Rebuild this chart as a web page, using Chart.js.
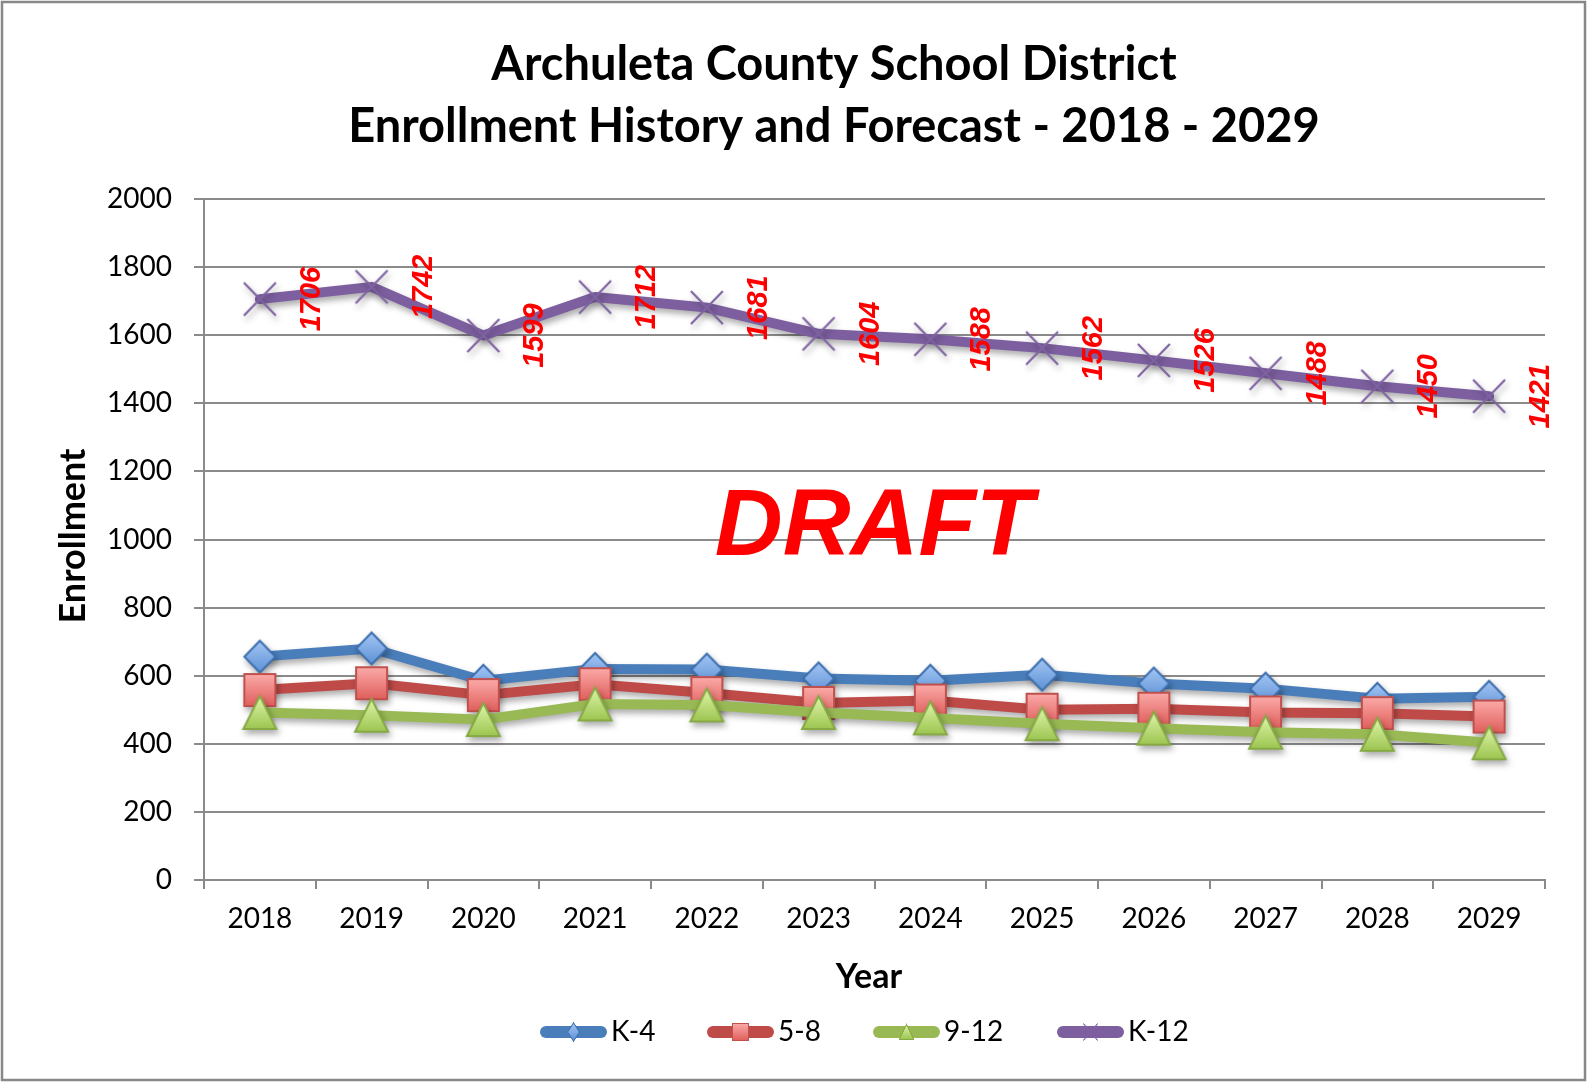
<!DOCTYPE html>
<html><head><meta charset="utf-8">
<script src="https://cdn.jsdelivr.net/npm/chart.js@4"></script>
<style>html,body{margin:0;padding:0;background:#fff}canvas{display:block}</style>
</head><body>
<canvas id="c" width="1587" height="1082"></canvas>
<script>
const years = ['2018','2019','2020','2021','2022','2023','2024','2025','2026','2027','2028','2029'];
const k4   = [656, 680, 585, 620, 618, 592, 585, 603, 577, 562, 532, 538];
const g58  = [558, 578, 543, 575, 549, 520, 527, 500, 503, 492, 490, 480];
const g912 = [492, 484, 471, 517, 514, 492, 476, 459, 446, 434, 428, 403];
const k12  = [1706, 1742, 1599, 1712, 1681, 1604, 1588, 1562, 1526, 1488, 1450, 1421];
const seriesNames = ['K-4', '5-8', '9-12', 'K-12'];
const yTicks = {min: 0, max: 2000, step: 200};
const titleLines = ['Archuleta County School District', 'Enrollment History and Forecast - 2018 - 2029'];
const yTitle = 'Enrollment';
const xTitle = 'Year';
const watermark = 'DRAFT';

function makeMarker(kind, w, h, stroke, top, bottom) {
  const pad = 3;
  const c = document.createElement('canvas');
  c.width = w + pad * 2; c.height = h + pad * 2;
  const x = c.getContext('2d');
  if (top && bottom) {
    const g = x.createLinearGradient(0, pad, 0, pad + h);
    g.addColorStop(0, top); g.addColorStop(1, bottom);
    x.fillStyle = g;
  }
  x.strokeStyle = stroke; x.lineWidth = 2; x.lineJoin = 'miter';
  x.beginPath();
  if (kind === 'diamond') {
    x.moveTo(pad + w / 2, pad); x.lineTo(pad + w, pad + h / 2);
    x.lineTo(pad + w / 2, pad + h); x.lineTo(pad, pad + h / 2); x.closePath();
    x.fill(); x.stroke();
  } else if (kind === 'square') {
    x.rect(pad, pad, w, h); x.fill(); x.stroke();
  } else if (kind === 'triangle') {
    x.moveTo(pad + w / 2, pad); x.lineTo(pad + w, pad + h); x.lineTo(pad, pad + h); x.closePath();
    x.fill(); x.stroke();
  } else if (kind === 'x') {
    x.lineWidth = 2.2; x.lineCap = 'butt';
    x.moveTo(pad, pad); x.lineTo(pad + w, pad + h);
    x.moveTo(pad + w, pad); x.lineTo(pad, pad + h); x.stroke();
  }
  return c;
}

const markers = [
  makeMarker('diamond', 31, 32, '#3d6fae', '#a3c6f4', '#5e91d6'),
  makeMarker('square', 31, 32, '#c0504d', '#fbaaa8', '#e05f5c'),
  makeMarker('triangle', 33, 33, '#86a944', '#e0f6ab', '#9cc550'),
  makeMarker('x', 32, 33, '#7e62a1')
];
const lineColors = ['#4a7ebb', '#be4b48', '#98b954', '#7d5fa0'];
const seriesData = [k4, g58, g912, k12];

const GRID = '#8a8a8a';

const shadowPlugin = {
  id: 'shadow',
  beforeDatasetDraw(chart) {
    const ctx = chart.ctx; ctx.save();
    ctx.shadowColor = 'rgba(0,0,0,0.33)'; ctx.shadowBlur = 6;
    ctx.shadowOffsetX = 2; ctx.shadowOffsetY = 4;
  },
  afterDatasetDraw(chart) { chart.ctx.restore(); }
};

const decorPlugin = {
  id: 'decor',
  beforeDraw(chart) {
    const ctx = chart.ctx;
    ctx.save();
    ctx.fillStyle = '#fff'; ctx.fillRect(0, 0, chart.width, chart.height);
    ctx.restore();
  },
  afterDraw(chart) {
    const ctx = chart.ctx;
    ctx.save();
    ctx.strokeStyle = '#888'; ctx.lineWidth = 2.5;
    ctx.strokeRect(2, 2, chart.width - 4, chart.height - 4);
    ctx.fillStyle = '#000'; ctx.textAlign = 'center'; ctx.textBaseline = 'alphabetic';
    ctx.font = 'bold 47px Lato';
    ctx.fillText(titleLines[0], 834, 80);
    ctx.fillText(titleLines[1], 834, 142);
    ctx.font = 'bold 34px Lato'; ctx.textBaseline = 'middle';
    ctx.fillText(xTitle, 869, 977);
    ctx.font = 'bold 36px Lato';
    ctx.save(); ctx.translate(73, 536); ctx.rotate(-Math.PI / 2);
    ctx.fillText(yTitle, 0, 0); ctx.restore();
    ctx.fillStyle = '#ff0000'; ctx.textBaseline = 'alphabetic';
    ctx.font = 'italic bold 94px "Liberation Sans"';
    ctx.fillText(watermark, 874, 555);
    const meta = chart.getDatasetMeta(3);
    ctx.font = 'italic bold 29px "Liberation Sans"'; ctx.textBaseline = 'middle';
    meta.data.forEach((el, i) => {
      ctx.save(); ctx.translate(el.x + 52, el.y); ctx.rotate(-Math.PI / 2);
      ctx.fillText(String(chart.data.datasets[3].data[i]), 0, 0); ctx.restore();
    });
    const lx = [540, 707, 873, 1057];
    const ly = 1032;
    const msz = [[14, 22], [19, 20], [17, 18], [17, 20]];
    chart.data.datasets.forEach((ds, i) => {
      const x0 = lx[i], x1 = x0 + 67;
      ctx.strokeStyle = ds.borderColor; ctx.lineWidth = 12; ctx.lineCap = 'round';
      ctx.beginPath(); ctx.moveTo(x0 + 6, ly); ctx.lineTo(x1 - 6, ly); ctx.stroke();
      const [mw, mh] = msz[i];
      ctx.drawImage(ds.pointStyle, (x0 + x1) / 2 - mw / 2, ly - mh / 2, mw, mh);
      ctx.fillStyle = '#000'; ctx.font = '28px Lato'; ctx.textAlign = 'left'; ctx.textBaseline = 'middle';
      ctx.fillText(ds.label, x1 + 4, ly);
    });
    ctx.restore();
  }
};

const datasets = seriesNames.map((name, i) => ({
  label: name,
  data: seriesData[i],
  borderColor: lineColors[i],
  backgroundColor: lineColors[i],
  borderWidth: 10,
  borderJoinStyle: 'round',
  borderCapStyle: 'round',
  tension: 0,
  pointStyle: markers[i],
  pointRadius: 16,
  order: 4 - i
}));

new Chart(document.getElementById('c'), {
  type: 'line',
  data: { labels: years, datasets },
  plugins: [shadowPlugin, decorPlugin],
  options: {
    responsive: false,
    animation: false,
    events: [],
    layout: { padding: { top: 199, right: 42, bottom: 0, left: 0 } },
    plugins: { legend: { display: false }, title: { display: false }, tooltip: { enabled: false } },
    scales: {
      x: {
        type: 'category',
        offset: true,
        afterFit(scale) { scale.height = 202; },
        grid: { offset: true, drawOnChartArea: false, drawTicks: true, tickLength: 9, color: GRID, lineWidth: 2 },
        border: { display: true, color: GRID, width: 2 },
        ticks: { color: '#000', font: { family: 'Lato', size: 28 }, padding: 13, maxRotation: 0, autoSkip: false }
      },
      y: {
        min: yTicks.min, max: yTicks.max,
        afterFit(scale) { scale.width = 204; },
        grid: { color: GRID, lineWidth: 2, drawTicks: true, tickLength: 10 },
        border: { display: true, color: GRID, width: 2 },
        ticks: { stepSize: yTicks.step, color: '#000', font: { family: 'Lato', size: 28 }, padding: 22,
                 callback: (v) => String(v) }
      }
    }
  }
});
</script>
</body></html>
